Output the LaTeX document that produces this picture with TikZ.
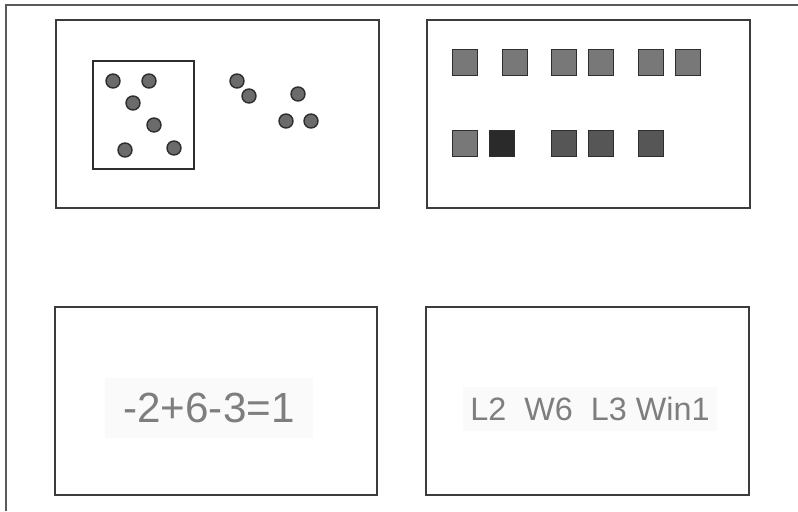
\documentclass[tikz,border=0pt]{standalone}
\usepackage{fontspec}
\setmainfont{Liberation Sans}
\usetikzlibrary{positioning}
\definecolor{frame}{HTML}{5A5A5A}
\definecolor{panelink}{HTML}{3C3C3C}
\definecolor{dotfill}{HTML}{6B6B6B}
\definecolor{dotink}{HTML}{2E2E2E}
\definecolor{tile}{HTML}{787878}
\definecolor{tilemid}{HTML}{565656}
\definecolor{tiledark}{HTML}{2A2A2A}
\definecolor{pencil}{HTML}{7E7E7E}
\definecolor{scan}{HTML}{FAFAFA}
\tikzset{
  outer/.style={draw=frame,line width=0.9pt},
  panel/.style={draw=panelink,line width=1.3pt},
  groupbox/.style={draw=dotink,line width=1pt},
  dot/.style={circle,draw=dotink,line width=1pt,fill=dotfill,minimum size=3.5mm,inner sep=0pt},
  tilebox/.style={draw=dotink,line width=0.8pt,fill=tile,minimum width=6.2mm,minimum height=6.7mm,inner sep=0pt},
  midtile/.style={tilebox,fill=tilemid},
  darktile/.style={tilebox,fill=tiledark},
  hand/.style={text=pencil,fill=scan,inner sep=0pt},
}

\begin{document}
\begin{tikzpicture}[x=0.25mm,y=-0.25mm]
  \useasboundingbox (0,0) rectangle (798,511);
  \draw[outer] (6,511) -- (6,5) -- (798,5);

  \draw[panel] (56,20) rectangle (379,208);
  \draw[panel] (427,20) rectangle (750,208);
  \draw[panel] (55,307) rectangle (377,495);
  \draw[panel] (426,307) rectangle (749,495);

  \draw[groupbox] (93,61) rectangle (194,169);
  \node[dot] (in1) at (113,81) {};
  \node[dot] (in2) at (149,81) {};
  \node[dot] (in3) at (133,103) {};
  \node[dot] (in4) at (154,125) {};
  \node[dot] (in5) at (125,150) {};
  \node[dot] (in6) at (174,148) {};
  \node[dot] (out1) at (237,81) {};
  \node[dot] (out2) at (249,96) {};
  \node[dot] (out3) at (298,94) {};
  \node[dot] (out4) at (286,121) {};
  \node[dot] (out5) at (311,121) {};

  \node[tilebox] (top1) at (465,62.5) {};
  \node[tilebox] (top2) at (515,62.5) {};
  \node[tilebox] (top3) at (564,62.5) {};
  \node[tilebox] (top4) at (601,62.5) {};
  \node[tilebox] (top5) at (651,62.5) {};
  \node[tilebox] (top6) at (688,62.5) {};
  \node[tilebox] (low1) at (465,143.5) {};
  \node[darktile] (low2) at (502,143.5) {};
  \node[midtile] (low3) at (564,143.5) {};
  \node[midtile] (low4) at (601,143.5) {};
  \node[midtile] (low5) at (651,143.5) {};

  \node[hand,minimum width=52mm,minimum height=15mm] (sum) at (209,408)
    {\fontsize{30}{30}\selectfont -2+6-3=1};
  \node[hand,minimum width=63.5mm,minimum height=11mm] (games) at (590,409)
    {\fontsize{23}{23}\selectfont L2\ \ W6\ \ L3 Win1};
\end{tikzpicture}
\end{document}
